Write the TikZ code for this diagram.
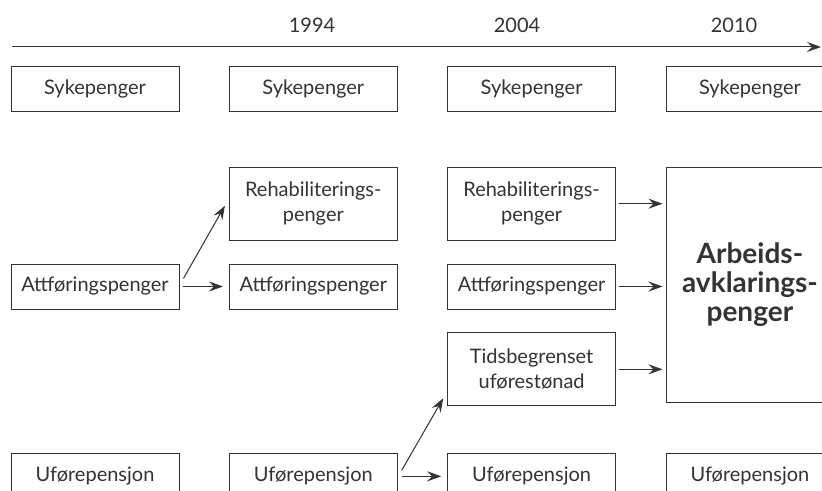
\documentclass[tikz,border=0pt]{standalone}
\usepackage{fontspec}
\setmainfont{Lato}
\usetikzlibrary{arrows.meta}
\usetikzlibrary{positioning}
\colorlet{ink}{black!80}
\tikzstyle{box} = [rectangle, draw=ink, text=ink, minimum width=84pt, minimum
height=22.5pt, text centered, inner sep=1pt, font=\fontsize{10}{12.5}\selectfont]
\tikzstyle{box2} = [box, minimum height=36.5pt, text width=80pt, align=center]
\tikzstyle{bigbox} = [box, minimum height=117.5pt, text width=82pt, align=center,
font=\fontsize{14}{14.5}\selectfont\bfseries]
\tikzstyle{year} = [text=ink, font=\fontsize{10}{12}\selectfont]
\tikzstyle{arrow} = [ink, line width=0.5pt, -{Stealth[length=7pt,width=5pt,inset=2.5pt]}]

\begin{document}
\begin{tikzpicture}[x=0.5pt, y=-0.5pt, node distance=11.5pt and 24.75pt]
  \useasboundingbox (0,0) rectangle (822,491);
  \clip (0,0) rectangle (822,491);

  % timeline
  \coordinate (tl0) at (12,47);
  \coordinate (tl1) at (821,47);
  \draw[arrow] (tl0) -- (tl1);
  \node (y1994) [year] at (312,25) {1994};
  \node (y2004) [year] at (517,25) {2004};
  \node (y2010) [year] at (734,25) {2010};

  \node (atf1) [box] at (95,286.5) {Attføringspenger};
  \node (atf2) [box, right=of atf1] {Attføringspenger};
  \node (atf3) [box, right=of atf2] {Attføringspenger};
  \node (reh2) [box2, above=of atf2] {Rehabiliterings-\\penger};
  \node (reh3) [box2, above=of atf3] {Rehabiliterings-\\penger};
  \node (tid3) [box2, below=of atf3] {Tidsbegrenset\\uførestønad};
  \node (arb) [bigbox, right=of atf3, yshift=1pt] {Arbeids-\\avklarings-\\penger};

  \node (syk1) [box, above=76pt of atf1] {Sykepenger};
  \node (syk2) [box, right=of syk1] {Sykepenger};
  \node (syk3) [box, right=of syk2] {Sykepenger};
  \node (syk4) [box, right=of syk3] {Sykepenger};

  \node (ufp1) [box, below=72pt of atf1] {Uførepensjon};
  \node (ufp2) [box, right=of ufp1] {Uførepensjon};
  \node (ufp3) [box, right=of ufp2] {Uførepensjon};
  \node (ufp4) [box, right=of ufp3] {Uførepensjon};

  \draw[arrow, shorten <=2pt, shorten >=3pt] (atf1.east) -- (atf2.west);
  \draw[arrow] ([shift={(2pt,4pt)}]atf1.east) -- ([shift={(-2pt,-1pt)}]reh2.west);
  \draw[arrow, shorten <=2pt, shorten >=3pt] (ufp2.east) -- (ufp3.west);
  \draw[arrow] ([shift={(2pt,3pt)}]ufp2.east) -- ([shift={(-2pt,4pt)}]tid3.south west);

  \draw[arrow, shorten <=1.5pt, shorten >=1.5pt] (reh3.east) -- (reh3.east -| arb.west);
  \draw[arrow, shorten <=1.5pt, shorten >=1.5pt] (atf3.east) -- (atf3.east -| arb.west);
  \draw[arrow, shorten <=1.5pt, shorten >=1.5pt] (tid3.east) -- (tid3.east -| arb.west);
\end{tikzpicture}
\end{document}
